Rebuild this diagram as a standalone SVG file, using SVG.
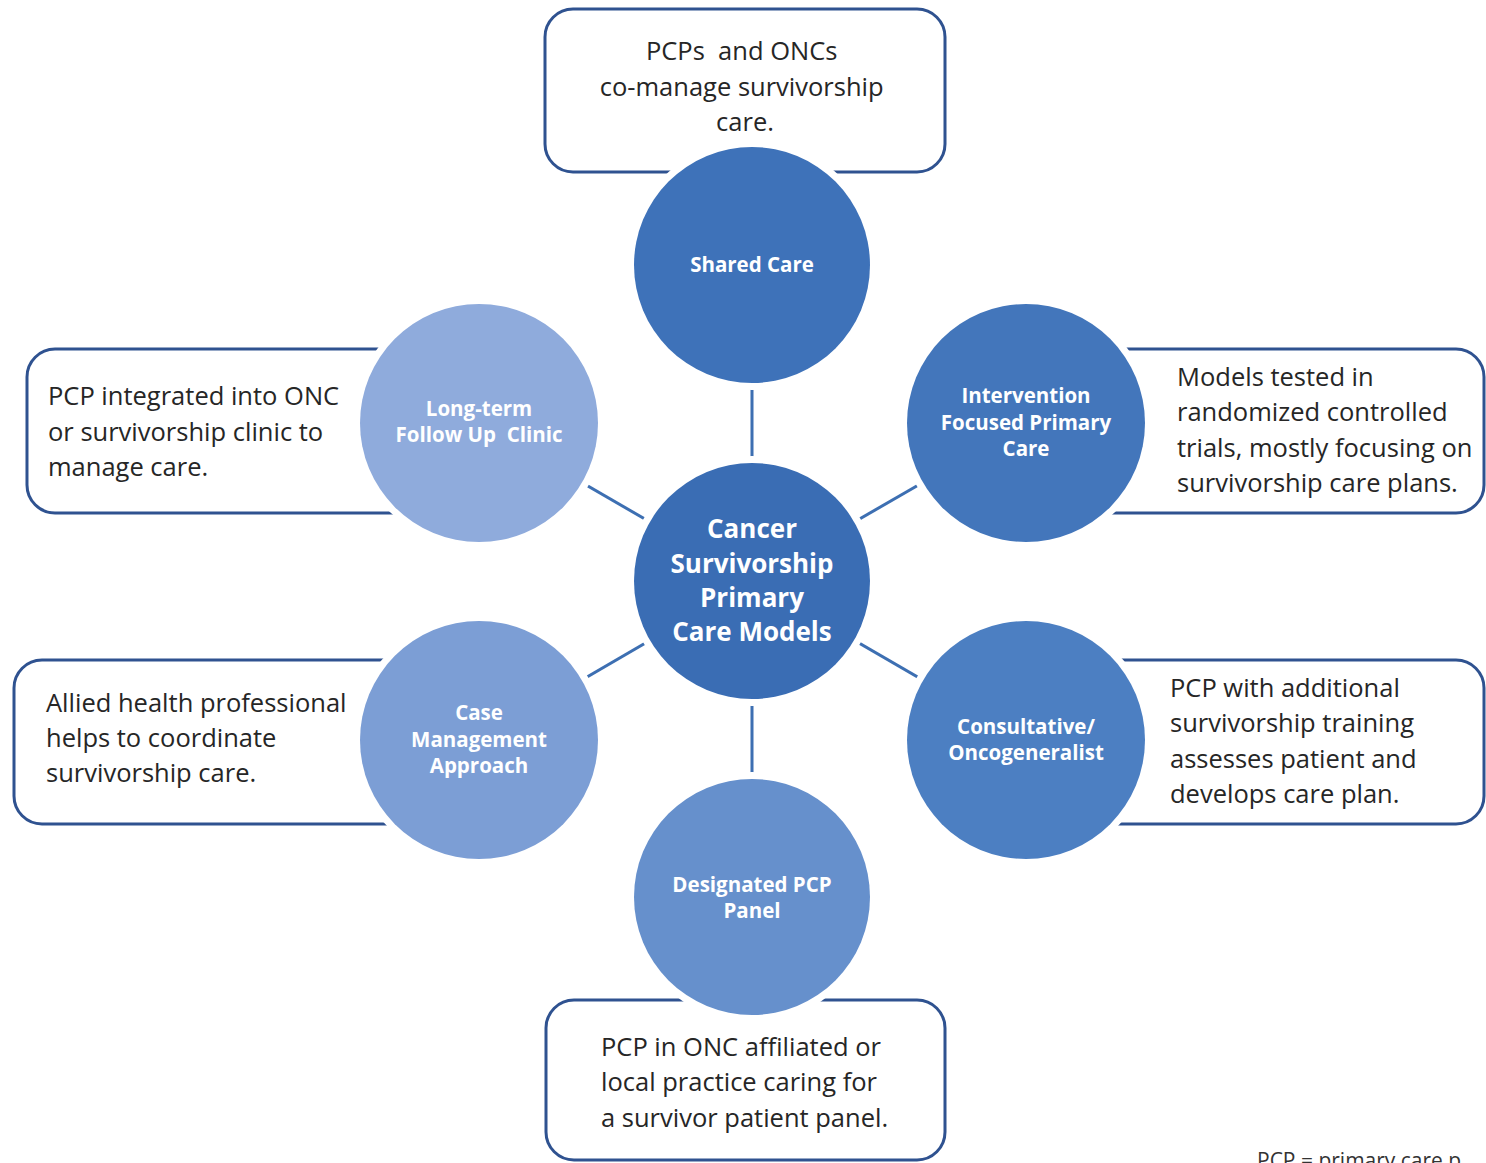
<svg xmlns="http://www.w3.org/2000/svg" width="1486" height="1163" viewBox="0 0 1486 1163">
  <style>
    .box { fill: #ffffff; stroke: #2f5290; stroke-width: 3; }
    .desc { font-family: "Open Sans", Lato, sans-serif; font-size: 25.5px; fill: #262626; }
    .link { stroke: #3d6fb2; stroke-width: 3; fill: none; }
    .disc { stroke: #ffffff; stroke-width: 14; paint-order: stroke; }
    .lbl { font-family: "Open Sans", Lato, sans-serif; font-size: 20.5px; font-weight: bold; fill: #ffffff; text-anchor: middle; }
    .hub { font-family: "Open Sans", Lato, sans-serif; font-size: 26px; font-weight: bold; fill: #ffffff; text-anchor: middle; }
    .note { font-family: "Open Sans", Lato, sans-serif; font-size: 21px; fill: #333333; }
  </style>
  <rect width="1486" height="1163" fill="#ffffff"/>

  <!-- description boxes -->
  <g id="box-shared">
    <rect class="box" x="545" y="9" width="400" height="163" rx="28"/>
    <text class="desc" text-anchor="middle">
      <tspan x="745" y="60">PCPs&#160; and ONCs</tspan>
      <tspan x="745" y="96">co-manage survivorship</tspan>
      <tspan x="745" y="131">care.</tspan>
    </text>
  </g>
  <g id="box-longterm">
    <rect class="box" x="27" y="349" width="420" height="164" rx="28"/>
    <text class="desc">
      <tspan x="48" y="405">PCP integrated into ONC</tspan>
      <tspan x="48" y="441">or survivorship clinic to</tspan>
      <tspan x="48" y="476">manage care.</tspan>
    </text>
  </g>
  <g id="box-intervention">
    <rect class="box" x="1060" y="349" width="424" height="164" rx="28"/>
    <text class="desc">
      <tspan x="1177" y="386">Models tested in</tspan>
      <tspan x="1177" y="421">randomized controlled</tspan>
      <tspan x="1177" y="457">trials, mostly focusing on</tspan>
      <tspan x="1177" y="492">survivorship care plans.</tspan>
    </text>
  </g>
  <g id="box-case">
    <rect class="box" x="14" y="660" width="430" height="164" rx="28"/>
    <text class="desc">
      <tspan x="46" y="712">Allied health professional</tspan>
      <tspan x="46" y="747">helps to coordinate</tspan>
      <tspan x="46" y="782">survivorship care.</tspan>
    </text>
  </g>
  <g id="box-consultative">
    <rect class="box" x="1060" y="660" width="424" height="164" rx="28"/>
    <text class="desc">
      <tspan x="1170" y="697">PCP with additional</tspan>
      <tspan x="1170" y="732">survivorship training</tspan>
      <tspan x="1170" y="768">assesses patient and</tspan>
      <tspan x="1170" y="803">develops care plan.</tspan>
    </text>
  </g>
  <g id="box-designated">
    <rect class="box" x="546" y="1000" width="399" height="160" rx="28"/>
    <text class="desc">
      <tspan x="601" y="1056">PCP in ONC affiliated or</tspan>
      <tspan x="601" y="1091">local practice caring for</tspan>
      <tspan x="601" y="1127">a survivor patient panel.</tspan>
    </text>
  </g>

  <!-- spokes from the hub to each model -->
  <g id="connectors">
    <line class="link" x1="752" y1="581" x2="752" y2="265"/>
    <line class="link" x1="752" y1="581" x2="752" y2="897"/>
    <line class="link" x1="752" y1="581" x2="479" y2="423"/>
    <line class="link" x1="752" y1="581" x2="1026" y2="423"/>
    <line class="link" x1="752" y1="581" x2="479" y2="740"/>
    <line class="link" x1="752" y1="581" x2="1026" y2="740"/>
  </g>

  <!-- model circles -->
  <g id="shared-care">
    <circle class="disc" cx="752" cy="265" r="118" fill="#3e72b9"/>
    <text class="lbl" x="752" y="272">Shared Care</text>
  </g>
  <g id="long-term">
    <circle class="disc" cx="479" cy="423" r="119" fill="#8fabdc"/>
    <text class="lbl"><tspan x="479" y="416">Long-term</tspan><tspan x="479" y="442">Follow Up&#160; Clinic</tspan></text>
  </g>
  <g id="intervention">
    <circle class="disc" cx="1026" cy="423" r="119" fill="#4376bb"/>
    <text class="lbl"><tspan x="1026" y="403">Intervention</tspan><tspan x="1026" y="430">Focused Primary</tspan><tspan x="1026" y="456">Care</tspan></text>
  </g>
  <g id="case-management">
    <circle class="disc" cx="479" cy="740" r="119" fill="#7c9ed5"/>
    <text class="lbl"><tspan x="479" y="720">Case</tspan><tspan x="479" y="747">Management</tspan><tspan x="479" y="773">Approach</tspan></text>
  </g>
  <g id="consultative">
    <circle class="disc" cx="1026" cy="740" r="119" fill="#4c7fc2"/>
    <text class="lbl"><tspan x="1026" y="734">Consultative/</tspan><tspan x="1026" y="760">Oncogeneralist</tspan></text>
  </g>
  <g id="designated">
    <circle class="disc" cx="752" cy="897" r="118" fill="#6690cc"/>
    <text class="lbl"><tspan x="752" y="892">Designated PCP</tspan><tspan x="752" y="918">Panel</tspan></text>
  </g>
  <g id="hub">
    <circle class="disc" cx="752" cy="581" r="118" fill="#3a6db4"/>
    <text class="hub"><tspan x="752" y="538">Cancer</tspan><tspan x="752" y="573">Survivorship</tspan><tspan x="752" y="607">Primary</tspan><tspan x="752" y="641">Care Models</tspan></text>
  </g>

  <text class="note" x="1257" y="1168">PCP = primary care p</text>
</svg>
